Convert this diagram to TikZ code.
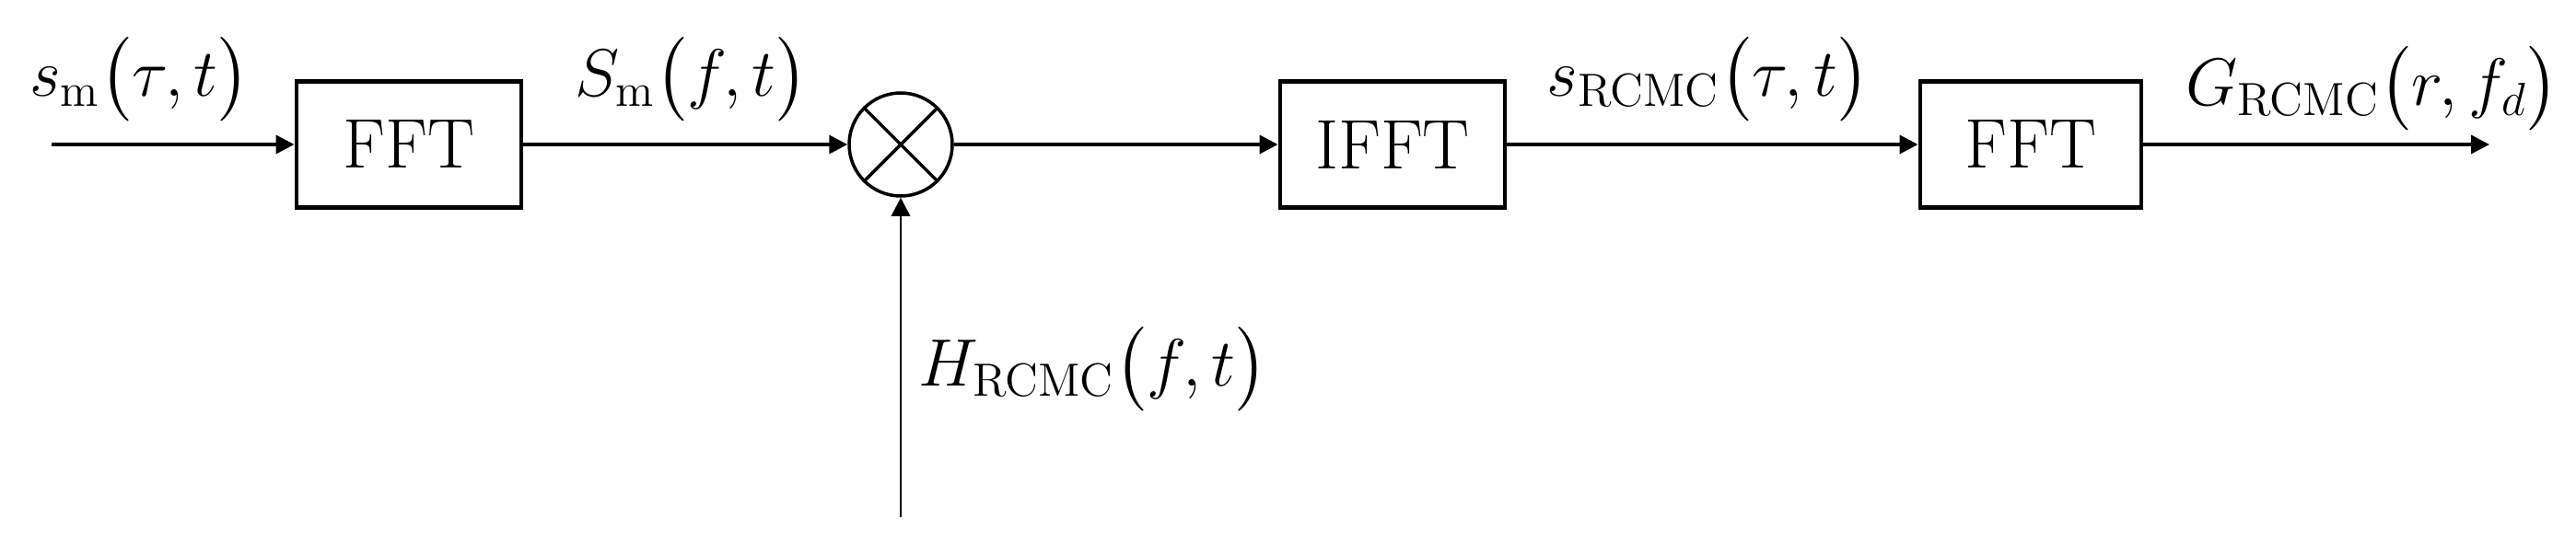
\documentclass[tikz,border=0pt]{standalone}
\usepackage{amsmath}
\usepackage{amssymb}
\usepackage{tikz}
\usetikzlibrary{positioning}
\usetikzlibrary{arrows.meta}

\begin{document}
\begin{tikzpicture}[font=\fontsize{21.7}{26}\selectfont,
  block/.style={draw, line width=1.4pt, minimum width=2.44cm, minimum height=1.37cm},
  sig/.style={black, line width=1pt, -{Triangle[length=0.2cm, width=0.2cm]}},
  lab/.style={anchor=south, inner sep=0pt}]
	\useasboundingbox (0,0) rectangle (27.97,5.88);
	\node[block] (fft1) at (4.44,4.31) {FFT};
	\node[draw, circle, line width=1pt, minimum size=1.12cm, inner sep=0] (mul) at (9.78,4.31) {};
	\draw[line width=1pt] (mul.north west)--(mul.south east) (mul.north east)--(mul.south west);
	\node[block] (ifft) at (15.12,4.31) {IFFT};
	\node[block, minimum width=2.40cm] (fft2) at (22.05,4.31) {FFT};
	\coordinate (in) at (0.56,4.31);
	\coordinate (out) at (27.03,4.31);
	\coordinate (hin) at (9.78,0.26);
	\draw[sig] (in)--(fft1);
	\draw[sig] (fft1)--(mul);
	\draw[sig] (mul)--(ifft);
	\draw[sig] (ifft)--(fft2);
	\draw[sig] (fft2)--(out);
	\draw[sig, line width=0.8pt] (hin)--(mul);
	\node[lab] (lsm) at (1.52,4.55) {$s_{\mathrm{m}}\bigl(\tau,t\bigr)$};
	\node[lab] (lSm) at (7.51,4.55) {$S_{\mathrm{m}}\bigl(f,t\bigr)$};
	\node[lab] (lsr) at (18.55,4.55) {$s_{\mathrm{RCMC}}\bigl(\tau,t\bigr)$};
	\node[lab] (lG) at (25.76,4.45) {$G_{\mathrm{RCMC}}\bigl(r,f_{d}\bigr)$};
	\node[lab] (lH) at (11.87,1.40) {$H_{\mathrm{RCMC}}\bigl(f,t\bigr)$};
\end{tikzpicture}
\end{document}
